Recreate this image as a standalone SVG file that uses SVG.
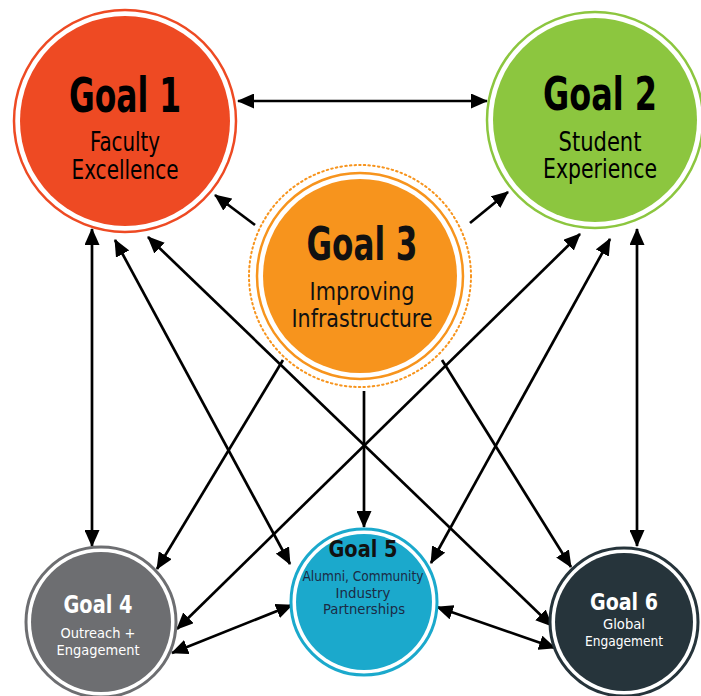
<svg xmlns="http://www.w3.org/2000/svg" width="701" height="696" viewBox="0 0 701 696">
<defs>
<marker id="ah" markerUnits="userSpaceOnUse" markerWidth="17" markerHeight="15" refX="16" refY="7.5" orient="auto-start-reverse" viewBox="0 0 17 15">
<path d="M0,0 L17,7.5 L0,15 Z" fill="#000"/>
</marker>
</defs>
<style>
.c line{stroke:#000;stroke-width:2.7;fill:none}
.c .b{marker-start:url(#ah);marker-end:url(#ah)}
.c .o{marker-end:url(#ah)}
text{font-family:"DejaVu Sans Condensed","DejaVu Sans",sans-serif;text-anchor:middle}
.t{font-weight:bold}
.w{fill:#fff}
</style>
<rect width="701" height="696" fill="#fff"/>
<g id="connectors" class="c">
<line class="b" x1="238" y1="101" x2="487" y2="101"/>
<line class="o" x1="255" y1="225" x2="215" y2="195"/>
<line class="o" x1="470" y1="223" x2="508" y2="192"/>
<line class="b" x1="92" y1="229" x2="92" y2="546"/>
<line class="b" x1="637" y1="229" x2="637" y2="546"/>
<line class="b" x1="115" y1="240" x2="290" y2="564"/>
<line class="b" x1="148" y1="237" x2="552" y2="626"/>
<line class="b" x1="580" y1="234" x2="177" y2="629"/>
<line class="b" x1="610" y1="239" x2="431" y2="563"/>
<line class="o" x1="283" y1="360" x2="157" y2="569"/>
<line class="o" x1="364" y1="391" x2="364" y2="527"/>
<line class="o" x1="442" y1="360" x2="571" y2="567"/>
<line class="b" x1="172" y1="653" x2="292" y2="605"/>
<line class="b" x1="437" y1="607" x2="555" y2="648"/>
</g>
<g id="goal1">
<circle cx="125" cy="121" r="111" fill="#fff" stroke="#ee4a23" stroke-width="2.5"/>
<circle cx="125" cy="121" r="105" fill="#ee4a23"/>
<text class="t" x="125" y="112" font-size="48" textLength="112" lengthAdjust="spacingAndGlyphs">Goal 1</text>
<text x="125" y="151" font-size="26" textLength="70" lengthAdjust="spacingAndGlyphs">Faculty</text>
<text x="125" y="179" font-size="26" textLength="107" lengthAdjust="spacingAndGlyphs">Excellence</text>
</g>
<g id="goal2">
<circle cx="595" cy="120" r="108" fill="#fff" stroke="#8cc63f" stroke-width="2.5"/>
<circle cx="595" cy="120" r="102" fill="#8cc63f"/>
<text class="t" x="600" y="110" font-size="47" textLength="114" lengthAdjust="spacingAndGlyphs">Goal 2</text>
<text x="600" y="151" font-size="26" textLength="83" lengthAdjust="spacingAndGlyphs">Student</text>
<text x="600" y="178" font-size="26" textLength="114" lengthAdjust="spacingAndGlyphs">Experience</text>
</g>
<g id="goal3">
<circle cx="360" cy="276" r="111" fill="#fff" stroke="#f7941d" stroke-width="2" stroke-dasharray="1.5 3.2" stroke-linecap="round"/>
<circle cx="360" cy="276" r="103" fill="#fff" stroke="#f7941d" stroke-width="2.5"/>
<circle cx="360" cy="276" r="97" fill="#f7941d"/>
<text class="t" x="362" y="260" font-size="46" textLength="111" lengthAdjust="spacingAndGlyphs" fill="#111">Goal 3</text>
<text x="362" y="300" font-size="25" textLength="105" lengthAdjust="spacingAndGlyphs" fill="#111">Improving</text>
<text x="362" y="327" font-size="25" textLength="141" lengthAdjust="spacingAndGlyphs" fill="#111">Infrastructure</text>
</g>
<g id="goal4">
<circle cx="101" cy="622" r="75" fill="#fff" stroke="#6d6e71" stroke-width="3"/>
<circle cx="101" cy="622" r="70" fill="#6d6e71"/>
<text class="t w" x="98" y="613" font-size="25" textLength="69" lengthAdjust="spacingAndGlyphs">Goal 4</text>
<text class="w" x="98" y="638" font-size="14.5" textLength="75" lengthAdjust="spacingAndGlyphs">Outreach +</text>
<text class="w" x="98" y="655" font-size="14.5" textLength="83" lengthAdjust="spacingAndGlyphs">Engagement</text>
</g>
<g id="goal5">
<circle cx="364" cy="602" r="73" fill="#fff" stroke="#1ba9cc" stroke-width="3"/>
<circle cx="364" cy="602" r="68" fill="#1ba9cc"/>
<text class="t" x="363" y="557" font-size="23" textLength="69" lengthAdjust="spacingAndGlyphs" fill="#111">Goal 5</text>
<text x="363" y="581" font-size="13.5" textLength="121" lengthAdjust="spacingAndGlyphs" fill="#1c2b45">Alumni, Community</text>
<text x="363" y="598" font-size="13.5" textLength="55" lengthAdjust="spacingAndGlyphs" fill="#1c2b45">Industry</text>
<text x="364" y="614" font-size="13.5" textLength="82" lengthAdjust="spacingAndGlyphs" fill="#1c2b45">Partnerships</text>
</g>
<g id="goal6">
<circle cx="624" cy="622" r="74" fill="#fff" stroke="#26343b" stroke-width="3"/>
<circle cx="624" cy="622" r="69" fill="#26343b"/>
<text class="t w" x="624" y="610" font-size="23" textLength="68" lengthAdjust="spacingAndGlyphs">Goal 6</text>
<text class="w" x="624" y="629" font-size="14" textLength="42" lengthAdjust="spacingAndGlyphs">Global</text>
<text class="w" x="624" y="646" font-size="14" textLength="78" lengthAdjust="spacingAndGlyphs">Engagement</text>
</g>
</svg>
